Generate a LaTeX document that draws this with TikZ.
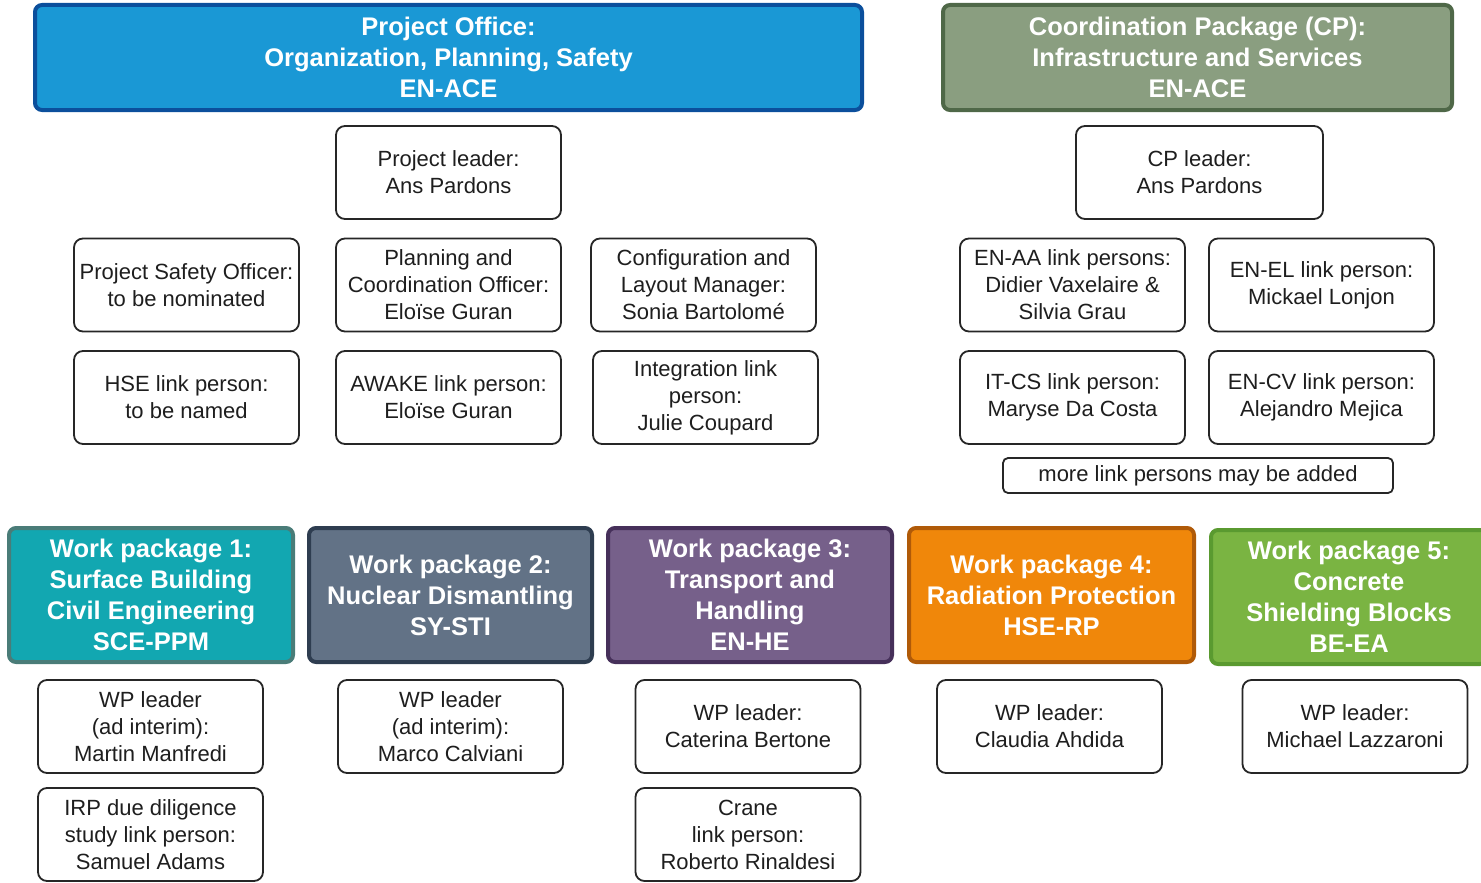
\documentclass[tikz,border=0pt]{standalone}
\usepackage{fontspec}
\setmainfont{Liberation Sans}
\begin{document}
\definecolor{txt}{HTML}{1E1E1E}
\definecolor{poFill}{HTML}{1A98D5}\definecolor{poLine}{HTML}{0B4F9C}
\definecolor{cpFill}{HTML}{8A9E80}\definecolor{cpLine}{HTML}{4F6848}
\definecolor{wpaFill}{HTML}{12A7B1}\definecolor{wpaLine}{HTML}{4A7C78}
\definecolor{wpbFill}{HTML}{627286}\definecolor{wpbLine}{HTML}{2E3D50}
\definecolor{wpcFill}{HTML}{76608A}\definecolor{wpcLine}{HTML}{46305A}
\definecolor{wpdFill}{HTML}{F0870A}\definecolor{wpdLine}{HTML}{B05A08}
\definecolor{wpeFill}{HTML}{7AB442}\definecolor{wpeLine}{HTML}{5A9A30}
\begin{tikzpicture}[x=1pt,y=-1pt,
  person/.style={draw=black!85, line width=1.8pt, rounded corners=9pt, fill=white,
    align=center, text=txt, inner sep=0pt, minimum width=225pt, minimum height=93pt,
    font=\fontsize{22}{27}\selectfont},
  header/.style={line width=4pt, rounded corners=7pt, align=center, text=white,
    inner sep=0pt, font=\bfseries\fontsize{25.5}{31}\selectfont},
  wp/.style={header, minimum height=134pt}]
\useasboundingbox (0,0) rectangle (1481,883);

% top-level offices
\node[header, draw=poLine, fill=poFill, minimum width=827pt, minimum height=105pt] (po) at (448.5,57.5)
  {Project Office:\\Organization, Planning, Safety\\EN-ACE};
\node[header, draw=cpLine, fill=cpFill, minimum width=509pt, minimum height=105pt] (cp) at (1197.5,57.5)
  {Coordination Package (CP):\\Infrastructure and Services\\EN-ACE};

% project office staff
\node[person] (pl) at (448.5,172.5) {Project leader:\\Ans Pardons};
\node[person] (pso) at (186.5,285) {Project Safety Officer:\\to be nominated};
\node[person] (pco) at (448.5,285) {Planning and\\Coordination Officer:\\Eloïse Guran};
\node[person] (clm) at (703.5,285) {Configuration and\\Layout Manager:\\Sonia Bartolomé};
\node[person] (hse) at (186.5,397.5) {HSE link person:\\to be named};
\node[person] (awk) at (448.5,397.5) {AWAKE link person:\\Eloïse Guran};
\node[person] (int) at (705.5,397.5) {Integration link\\person:\\Julie Coupard};

% coordination package staff
\node[person, minimum width=247pt] (cpl) at (1199.5,172.5) {CP leader:\\Ans Pardons};
\node[person] (enaa) at (1072.5,285) {EN-AA link persons:\\Didier Vaxelaire \&\\Silvia Grau};
\node[person] (enel) at (1321.5,285) {EN-EL link person:\\Mickael Lonjon};
\node[person] (itcs) at (1072.5,397.5) {IT-CS link person:\\Maryse Da Costa};
\node[person] (encv) at (1321.5,397.5) {EN-CV link person:\\Alejandro Mejica};
\node[person, minimum width=390pt, minimum height=35pt, rounded corners=5pt] (more) at (1198,475.5)
  {more link persons may be added};

% work packages
\node[wp, draw=wpaLine, fill=wpaFill, minimum width=284pt] (wpa) at (151,595)
  {Work package 1:\\Surface Building\\Civil Engineering\\SCE-PPM};
\node[wp, draw=wpbLine, fill=wpbFill, minimum width=283pt] (wpb) at (450.5,595)
  {Work package 2:\\Nuclear Dismantling\\SY-STI};
\node[wp, draw=wpcLine, fill=wpcFill, minimum width=284pt] (wpc) at (750,595)
  {Work package 3:\\Transport and\\Handling\\EN-HE};
\node[wp, draw=wpdLine, fill=wpdFill, minimum width=285pt] (wpd) at (1051.5,595)
  {Work package 4:\\Radiation Protection\\HSE-RP};
\node[wp, draw=wpeLine, fill=wpeFill, minimum width=276pt] (wpe) at (1349,597)
  {Work package 5:\\Concrete\\Shielding Blocks\\BE-EA};

% work package leaders and link persons
\node[person] (wpal) at (150.5,726.5) {WP leader\\(ad interim):\\Martin Manfredi};
\node[person] (wpbl) at (450.5,726.5) {WP leader\\(ad interim):\\Marco Calviani};
\node[person] (wpcl) at (748,726.5) {WP leader:\\Caterina Bertone};
\node[person] (wpdl) at (1049.5,726.5) {WP leader:\\Claudia Ahdida};
\node[person] (wpel) at (1355,726.5) {WP leader:\\Michael Lazzaroni};
\node[person] (irp) at (150.5,834.5) {IRP due diligence\\study link person:\\Samuel Adams};
\node[person] (crane) at (748,834.5) {Crane\\link person:\\Roberto Rinaldesi};
\end{tikzpicture}
\end{document}
